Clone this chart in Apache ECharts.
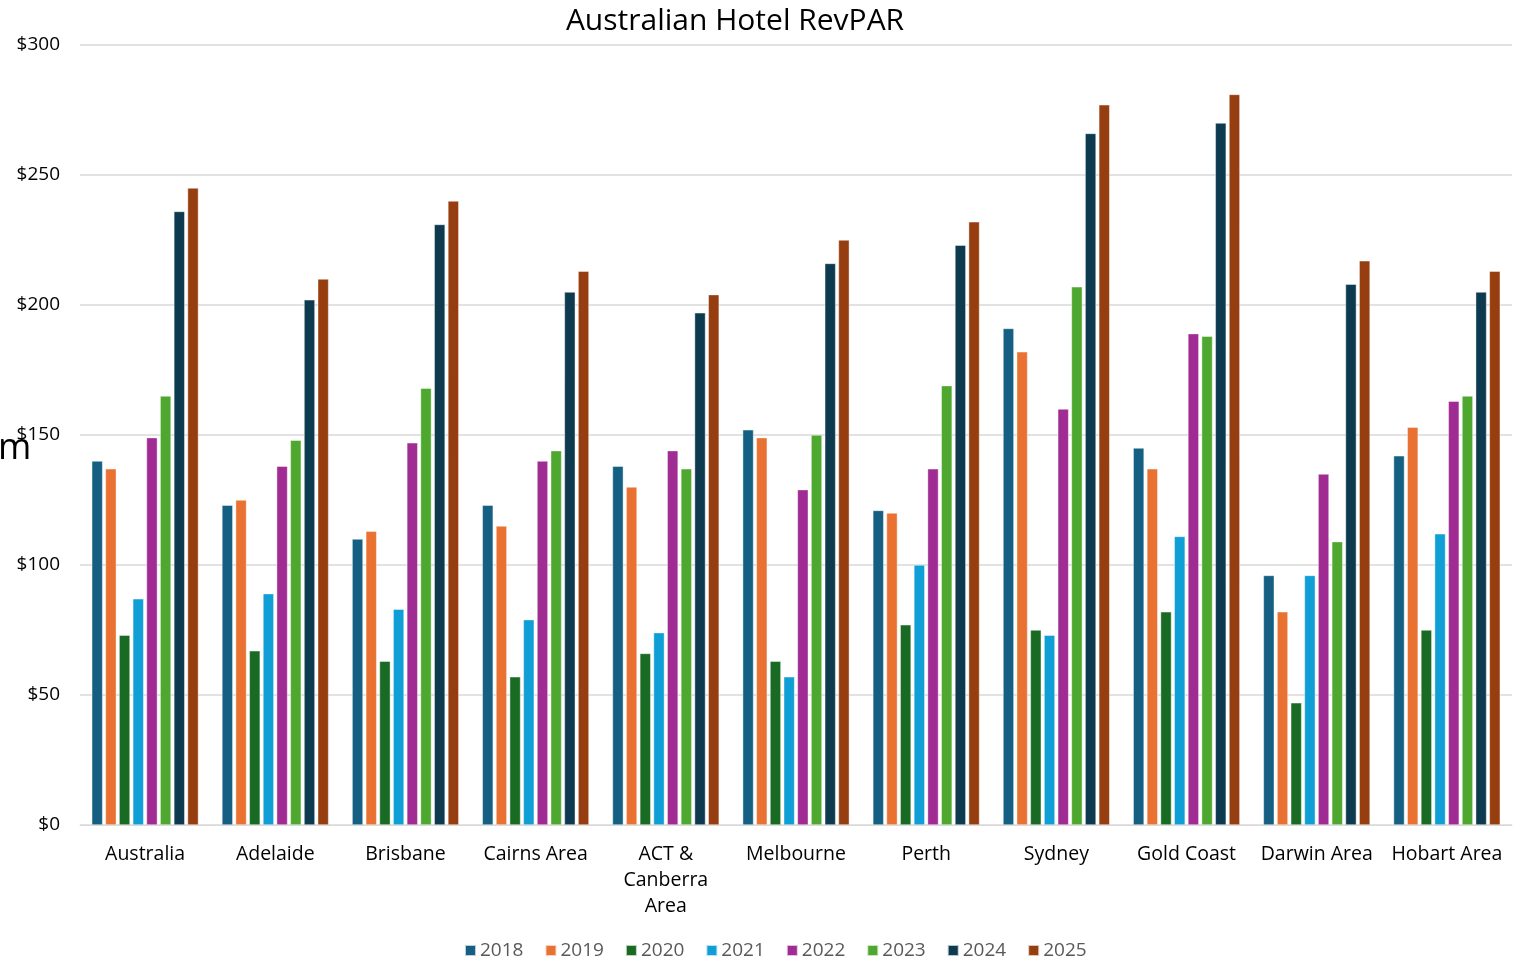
<!DOCTYPE html>
<html>
<head>
<meta charset="utf-8">
<script src="https://cdn.jsdelivr.net/npm/echarts@6/dist/echarts.min.js"></script>
<style>html,body{margin:0;padding:0;background:#fff;}#c{width:1522px;height:961px;}</style>
</head>
<body>
<div id="c"></div>
<script>
const categories = ['Australia','Adelaide','Brisbane','Cairns Area','ACT &\nCanberra\nArea','Melbourne','Perth','Sydney','Gold Coast','Darwin Area','Hobart Area'];
const years = ['2018','2019','2020','2021','2022','2023','2024','2025'];
const colors = ['#156082','#E97132','#196B24','#0F9ED5','#A02B93','#4EA72E','#0E3A50','#963E10'];
const v2018 = [140, 123, 110, 123, 138, 152, 121, 191, 145, 96, 142];
const v2019 = [137, 125, 113, 115, 130, 149, 120, 182, 137, 82, 153];
const v2020 = [73, 67, 63, 57, 66, 63, 77, 75, 82, 47, 75];
const v2021 = [87, 89, 83, 79, 74, 57, 100, 73, 111, 96, 112];
const v2022 = [149, 138, 147, 140, 144, 129, 137, 160, 189, 135, 163];
const v2023 = [165, 148, 168, 144, 137, 150, 169, 207, 188, 109, 165];
const v2024 = [236, 202, 231, 205, 197, 216, 223, 266, 270, 208, 205];
const v2025 = [245, 210, 240, 213, 204, 225, 232, 277, 281, 217, 213];
const seriesValues = [v2018, v2019, v2020, v2021, v2022, v2023, v2024, v2025];

const chart = echarts.init(document.getElementById('c'));
const fontFam = '"Open Sans", "Noto Sans", sans-serif';
chart.setOption({
  animation: false,
  color: colors,
  textStyle: { fontFamily: fontFam },
  title: {
    text: 'Australian Hotel RevPAR',
    left: 730, textAlign: 'center', top: 1,
    textStyle: { fontSize: 30, fontWeight: 'normal', color: '#000', fontFamily: fontFam }
  },
  graphic: [{
    type: 'text', left: -2, top: 431,
    style: { text: 'm', fontSize: 36, fill: '#000', fontFamily: fontFam }
  }],
  legend: {
    bottom: -4, left: 459,
    itemWidth: 11, itemHeight: 11, itemGap: 21,
    icon: 'rect',
    textStyle: { fontSize: 19, color: '#595959', padding: [0, 0, 0, -1] },
    data: years
  },
  grid: { left: 80, right: 10, top: 45, bottom: 136, containLabel: false },
  xAxis: {
    type: 'category', data: categories,
    axisTick: { show: false },
    axisLine: { lineStyle: { color: '#d9d9d9', width: 1 } },
    axisLabel: { fontSize: 19.5, color: '#000', margin: 16, lineHeight: 26, interval: 0 }
  },
  yAxis: {
    type: 'value', min: 0, max: 300, interval: 50,
    axisLine: { show: false }, axisTick: { show: false },
    splitLine: { lineStyle: { color: '#d9d9d9', width: 1.5 } },
    axisLabel: { fontSize: 19, color: '#000', margin: 20, formatter: v => '$' + v }
  },
  series: years.map((y, i) => ({
    name: y, type: 'bar', data: seriesValues[i],
    barGap: '25%', barCategoryGap: '18%',
    itemStyle: { color: colors[i], borderColor: 'rgba(255,255,255,0.7)', borderWidth: 0.6 }
  }))
});
</script>
</body>
</html>
